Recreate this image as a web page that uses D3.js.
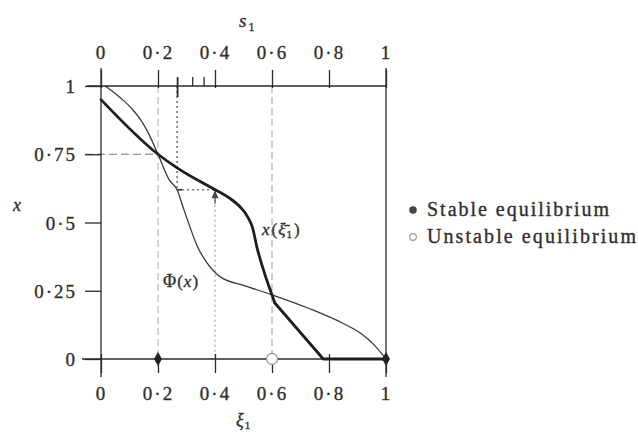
<!DOCTYPE html>
<html>
<head>
<meta charset="utf-8">
<script src="https://cdn.jsdelivr.net/npm/d3@7"></script>
<style>
  html, body { margin: 0; padding: 0; background: #fff; }
  svg { display: block; font-family: "Liberation Serif", "Times New Roman", serif; }
  svg text { stroke: #2f2f2f; stroke-width: 0.35px; }
</style>
</head>
<body>
<svg id="chart" width="638" height="435"></svg>
<script>
// Tick values and their printed labels
const bottomTicks = [0, 0.2, 0.4, 0.6, 0.8, 1];
const bottomLabels = ["0", "0·2", "0·4", "0·6", "0·8", "1"];
const topTicks = [0, 0.2, 0.4, 0.6, 0.8, 1];
const topLabels = ["0", "0·2", "0·4", "0·6", "0·8", "1"];
const topMinorTicks = [0.32, 0.36];
const yTicks = [0, 0.25, 0.5, 0.75, 1];
const yLabels = ["0", "0·25", "0·5", "0·75", "1"];

// Best response curve x(ξ̄1): smooth part, then straight run to the axis
const xCurve = [
  [0, 0.95], [0.2, 0.75], [0.267, 0.70], [0.4, 0.62], [0.45, 0.59],
  [0.49, 0.555], [0.515, 0.52], [0.532, 0.48], [0.547, 0.41],
  [0.575, 0.31], [0.6, 0.235], [0.61, 0.205]
];
const xCurveTail = [[0.61, 0.205], [0.78, 0], [1, 0]];

// Mapping Φ(x): [s1, x]
const phiCurve = [
  [0.015, 1], [0.07, 0.955], [0.11, 0.915], [0.14, 0.875], [0.165, 0.83],
  [0.2, 0.75], [0.24, 0.655], [0.267, 0.62], [0.29, 0.55], [0.31, 0.49],
  [0.337, 0.415], [0.37, 0.355], [0.42, 0.30], [0.5, 0.27], [0.6, 0.235],
  [0.73, 0.185], [0.85, 0.13], [0.91, 0.095], [0.96, 0.05], [1, 0]
];

// Equilibria on the ξ̄1 axis
const stable = [0.2, 1];
const unstable = [0.6];

// Cobweb construction
const s1Start = 0.267;
const xStep = 0.62;
const xiStep = 0.4;
const eqX = 0.75;

const svg = d3.select("#chart");
const x = d3.scaleLinear().domain([0, 1]).range([101, 386]);
const y = d3.scaleLinear().domain([0, 1]).range([359, 86]);

const ink = "#2a2a2a";
const textInk = "#2f2f2f";

// Guide lines
const guides = svg.append("g").attr("fill", "none");
guides.append("line")
  .attr("x1", x(0.2)).attr("x2", x(0.2)).attr("y1", y(1)).attr("y2", y(0))
  .attr("stroke", "#bdbdbd").attr("stroke-width", 1.3).attr("stroke-dasharray", "7,4");
guides.append("line")
  .attr("x1", x(0.6)).attr("x2", x(0.6)).attr("y1", y(1)).attr("y2", y(0))
  .attr("stroke", "#b5b5b5").attr("stroke-width", 1.3).attr("stroke-dasharray", "7,4");
guides.append("line")
  .attr("x1", x(0) - 16).attr("x2", x(0.2)).attr("y1", y(eqX)).attr("y2", y(eqX))
  .attr("stroke", "#777").attr("stroke-width", 1.2).attr("stroke-dasharray", "8,4");
guides.append("line")
  .attr("x1", x(s1Start)).attr("x2", x(s1Start)).attr("y1", y(1)).attr("y2", y(xStep))
  .attr("stroke", "#555").attr("stroke-width", 1.3).attr("stroke-dasharray", "2,3");
guides.append("line")
  .attr("x1", x(s1Start)).attr("x2", x(xiStep)).attr("y1", y(xStep)).attr("y2", y(xStep))
  .attr("stroke", "#777").attr("stroke-width", 1.3).attr("stroke-dasharray", "2,3");
guides.append("line")
  .attr("x1", x(xiStep)).attr("x2", x(xiStep)).attr("y1", y(xStep)).attr("y2", y(0))
  .attr("stroke", "#aaa").attr("stroke-width", 1.3).attr("stroke-dasharray", "2,3");
// small arrow marks on the cobweb
guides.append("line")
  .attr("x1", x(s1Start)).attr("x2", x(s1Start) + 5).attr("y1", y(xStep)).attr("y2", y(xStep))
  .attr("stroke", ink).attr("stroke-width", 1.6);
guides.append("path")
  .attr("d", `M${x(xiStep)},${y(xStep) + 2} l-2.5,6 l5,0 z M${x(xiStep)},${y(xStep) + 6} v8`)
  .attr("stroke", "#444").attr("stroke-width", 1.2).attr("fill", "#444");

// Frame lines
const frame = svg.append("g").attr("stroke", ink).attr("stroke-width", 1.3);
frame.append("line").attr("x1", x(0)).attr("x2", x(0)).attr("y1", y(1) - 18).attr("y2", y(0) + 18);
frame.append("line").attr("x1", x(1)).attr("x2", x(1)).attr("y1", y(1) - 18).attr("y2", y(0) + 18);
frame.append("line").attr("x1", x(0) - 14).attr("x2", x(1)).attr("y1", y(1)).attr("y2", y(1));
frame.append("line").attr("x1", x(0) - 19).attr("x2", x(1)).attr("y1", y(0)).attr("y2", y(0));

// Axes
function styleAxis(g) {
  g.attr("font-family", null).attr("font-size", null);
  g.select(".domain").remove();
  g.selectAll(".tick line").attr("stroke", ink).attr("stroke-width", 1.3);
  g.selectAll(".tick text")
    .attr("fill", textInk)
    .style("font-size", "19px")
    .style("letter-spacing", "2px");
}

svg.append("g")
  .attr("transform", `translate(0,${y(0)})`)
  .call(d3.axisBottom(x).tickValues(bottomTicks).tickFormat((d, i) => bottomLabels[i]).tickSize(14))
  .call(styleAxis)
  .call(g => g.selectAll(".tick line").attr("y1", -5))
  .call(g => g.selectAll(".tick text").attr("y", 34).attr("dy", "0.35em"));

svg.append("g")
  .attr("transform", `translate(0,${y(1)})`)
  .call(d3.axisTop(x).tickValues(topTicks).tickFormat((d, i) => topLabels[i]).tickSize(16))
  .call(styleAxis)
  .call(g => g.selectAll(".tick line").attr("y1", 2))
  .call(g => g.selectAll(".tick text").attr("y", -34).attr("dy", "0.35em"));

// minor marks along the s1 axis
svg.append("g")
  .attr("transform", `translate(0,${y(1)})`)
  .call(d3.axisTop(x).tickValues(topMinorTicks).tickFormat("").tickSize(9))
  .call(styleAxis);
svg.append("g")
  .attr("transform", `translate(0,${y(1)})`)
  .call(d3.axisTop(x).tickValues([s1Start]).tickFormat("").tickSize(9))
  .call(styleAxis)
  .call(g => g.selectAll(".tick line").attr("y1", 11).attr("stroke-width", 1.8));

svg.append("g")
  .attr("transform", `translate(${x(0)},0)`)
  .call(d3.axisLeft(y).tickValues(yTicks).tickFormat((d, i) => yLabels[i]).tickSize(16))
  .call(styleAxis)
  .call(g => g.selectAll(".tick text").attr("x", -24).attr("dy", "0.35em"));

// Curves
const px = d => x(d[0]);
const py = d => y(d[1]);
svg.append("path")
  .datum(phiCurve)
  .attr("d", d3.line().x(px).y(py).curve(d3.curveMonotoneX))
  .attr("fill", "none").attr("stroke", "#3a3a3a").attr("stroke-width", 1.3);
svg.append("path")
  .datum(xCurve)
  .attr("d", d3.line().x(px).y(py).curve(d3.curveMonotoneX))
  .attr("fill", "none").attr("stroke", "#1e1e1e").attr("stroke-width", 2.8)
  .attr("stroke-linecap", "round");
svg.append("path")
  .datum(xCurveTail)
  .attr("d", d3.line().x(px).y(py))
  .attr("fill", "none").attr("stroke", "#1e1e1e").attr("stroke-width", 2.8)
  .attr("stroke-linejoin", "round").attr("stroke-linecap", "round");

// Equilibrium markers
svg.append("g").selectAll("path")
  .data(stable)
  .join("path")
  .attr("transform", d => `translate(${x(d)},${y(0)})`)
  .attr("d", d3.symbol(d3.symbolDiamond, 55))
  .attr("fill", "#222");
svg.append("g").selectAll("circle")
  .data(unstable)
  .join("circle")
  .attr("cx", d => x(d)).attr("cy", y(0)).attr("r", 5.5)
  .attr("fill", "#fff").attr("stroke", "#999").attr("stroke-width", 1.3);

// Curve labels
svg.append("text")
  .attr("x", 163).attr("y", 287)
  .attr("font-size", 17).attr("fill", textInk)
  .html('<tspan font-size="18">Φ</tspan><tspan dx="1">(</tspan><tspan dx="1" font-style="italic">x</tspan><tspan dx="1">)</tspan>');
svg.append("text")
  .attr("x", 262).attr("y", 235)
  .attr("font-size", 17).attr("fill", textInk)
  .html('<tspan font-style="italic">x</tspan><tspan dx="2">(</tspan><tspan dx="1" font-style="italic">ξ̄</tspan><tspan font-size="11" dy="3" dx="1">1</tspan><tspan dy="-3" dx="2">)</tspan>');

// Axis titles
svg.append("text")
  .attr("x", 239).attr("y", 27)
  .attr("font-size", 19).attr("fill", textInk)
  .html('<tspan font-style="italic">s</tspan><tspan font-size="12" dy="4" dx="2">1</tspan>');
svg.append("text")
  .attr("x", 13).attr("y", 211)
  .attr("font-size", 18).attr("font-style", "italic").attr("fill", textInk)
  .text("x");
svg.append("text")
  .attr("x", 236).attr("y", 426)
  .attr("font-size", 18).attr("fill", textInk)
  .html('<tspan font-style="italic">ξ</tspan><tspan font-size="11" dy="3" dx="1">1</tspan>');

// Legend
const legend = svg.append("g");
legend.append("circle").attr("cx", 413).attr("cy", 210).attr("r", 3.8).attr("fill", "#444");
legend.append("circle").attr("cx", 413).attr("cy", 237).attr("r", 3.3)
  .attr("fill", "#fff").attr("stroke", "#999").attr("stroke-width", 1.2);
legend.append("text")
  .attr("x", 427).attr("y", 216).attr("font-size", 20).attr("fill", textInk)
  .attr("textLength", 182).attr("lengthAdjust", "spacing")
  .text("Stable equilibrium");
legend.append("text")
  .attr("x", 427).attr("y", 243).attr("font-size", 20).attr("fill", textInk)
  .attr("textLength", 209).attr("lengthAdjust", "spacing")
  .text("Unstable equilibrium");
</script>
</body>
</html>
